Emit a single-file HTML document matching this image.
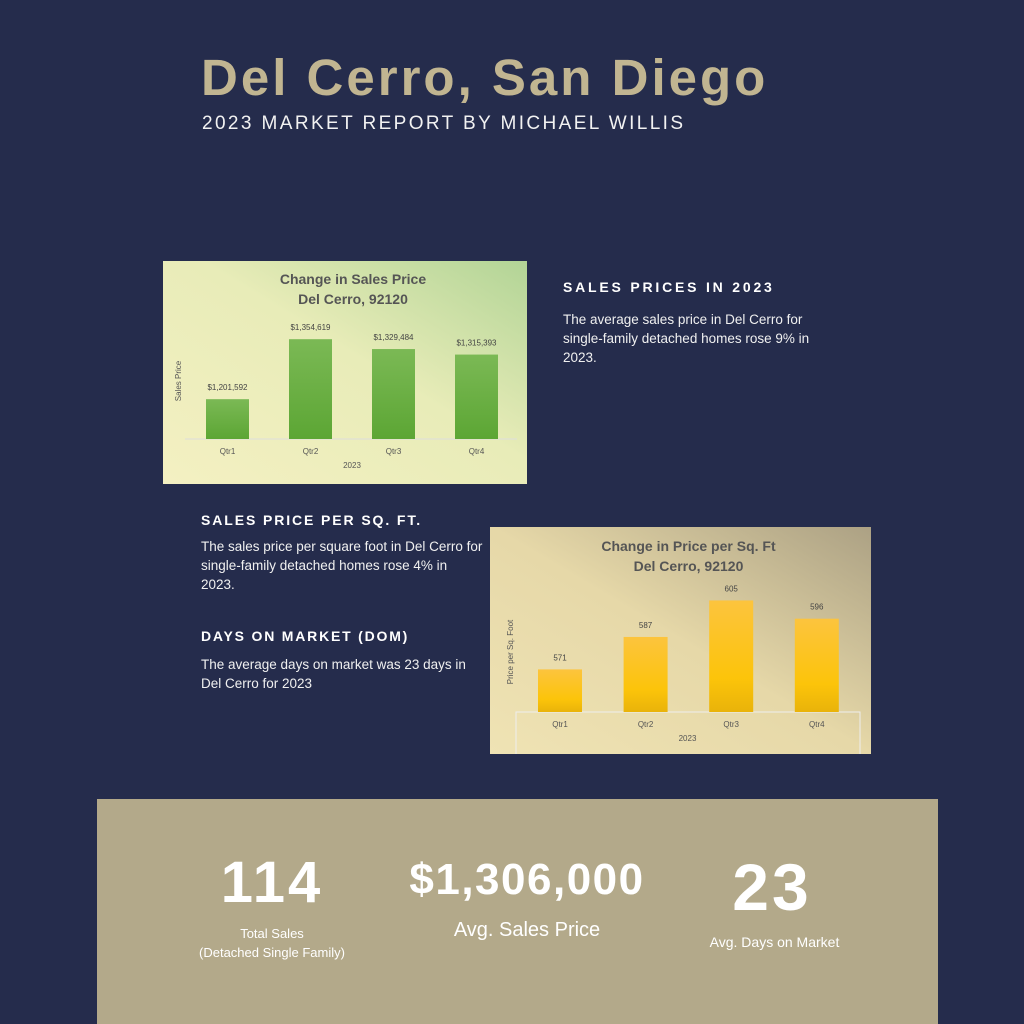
<!DOCTYPE html>
<html><head><meta charset="utf-8"><style>
body{margin:0;width:1024px;height:1024px;background:#252c4c;position:relative;overflow:hidden;font-family:"Liberation Sans",sans-serif}
.a{position:absolute;margin:0}
h1.a{left:201px;top:48px;font-size:51px;font-weight:bold;color:#c1b591;letter-spacing:3px;white-space:nowrap}
.sub{left:202px;top:113px;font-size:19px;color:#f2f2f2;letter-spacing:2.4px;white-space:nowrap}
.h{font-size:14px;font-weight:bold;color:#fff;letter-spacing:2.3px;white-space:nowrap}
.p{font-size:13.5px;color:#f0f0f0;line-height:19px}
.stats{left:97px;top:799px;width:841px;height:225px;background:#b3a98a}
.big{font-weight:900;color:#fff;text-align:center;position:absolute;white-space:nowrap}
.lbl{color:#fff;text-align:center;position:absolute}
</style></head><body>
<h1 class="a">Del Cerro, San Diego</h1>
<div class="a sub">2023 MARKET REPORT BY MICHAEL WILLIS</div>

<svg class="a" id="c1" style="left:163px;top:261px" width="364" height="223"></svg>
<div class="a h" style="left:563px;top:279px;letter-spacing:2.8px">SALES PRICES IN 2023</div>
<div class="a p" style="left:563px;top:310px;width:280px">The average sales price in Del Cerro for single-family detached homes rose 9% in 2023.</div>

<div class="a h" style="left:201px;top:512px;letter-spacing:1.9px">SALES PRICE PER SQ. FT.</div>
<div class="a p" style="left:201px;top:537px;width:283px">The sales price per square foot in Del Cerro for single-family detached homes rose 4% in 2023.</div>
<div class="a h" style="left:201px;top:628px;letter-spacing:1.8px">DAYS ON MARKET (DOM)</div>
<div class="a p" style="left:201px;top:655px;width:283px">The average days on market was 23 days in Del Cerro for 2023</div>

<svg class="a" id="c2" style="left:490px;top:527px" width="381" height="227"></svg>

<div class="a stats">
<div class="big" style="left:105px;top:50px;width:140px;font-size:58px;letter-spacing:3px">114</div>
<div class="lbl" style="left:75px;top:125px;width:200px;font-size:13px;line-height:19px">Total Sales<br>(Detached Single Family)</div>
<div class="big" style="left:290px;top:56px;width:280px;font-size:44px;letter-spacing:1.5px">$1,306,000</div>
<div class="lbl" style="left:330px;top:120px;width:200px;font-size:20px">Avg. Sales Price</div>
<div class="big" style="left:615px;top:50px;width:120px;font-size:66px;letter-spacing:3px">23</div>
<div class="lbl" style="left:590px;top:135px;width:175px;font-size:14px">Avg. Days on Market</div>
</div>

<script>
const cats1=["Qtr1","Qtr2","Qtr3","Qtr4"];
const vals1=[1201592,1354619,1329484,1315393];
const labels1=["$1,201,592","$1,354,619","$1,329,484","$1,315,393"];
const cats2=["Qtr1","Qtr2","Qtr3","Qtr4"];
const vals2=[571,587,605,596];
const labels2=["571","587","605","596"];
const NS="http://www.w3.org/2000/svg";
function mk(svg,tag,attrs,txt){const e=document.createElementNS(NS,tag);for(const k in attrs)e.setAttribute(k,attrs[k]);if(txt!==undefined)e.textContent=txt;svg.appendChild(e);return e;}
function chart(id,o){
 const svg=document.getElementById(id);
 svg.innerHTML=o.defs;
 mk(svg,"rect",{x:0,y:0,width:o.w,height:o.h,fill:"url(#bg"+id+")"});
 const t1=mk(svg,"text",{x:o.w/2+8,y:o.t1y,"text-anchor":"middle","font-size":"14","font-weight":"bold",fill:"#555"},o.title1);
 
 mk(svg,"text",{x:o.w/2+8,y:o.t1y+20,"text-anchor":"middle","font-size":"14","font-weight":"bold",fill:"#555"},"Del Cerro, 92120");
 const y=v=>o.base-(v-o.min)/(o.max-o.min)*o.span;
 const x=i=>o.x0+i*o.step;
 if(o.axisBox) mk(svg,"rect",{x:26,y:o.base,width:344,height:50,fill:"none",stroke:"#eee","stroke-width":1});
 else mk(svg,"line",{x1:22,x2:o.w-10,y1:o.base,y2:o.base,stroke:"#ddd"});
 o.cats.forEach((c,i)=>{
  const b=mk(svg,"rect",{x:x(i),y:y(o.vals[i]),width:o.bw,height:o.base-y(o.vals[i]),fill:"url(#bar"+id+")"});
  
  mk(svg,"text",{x:x(i)+o.bw/2,y:y(o.vals[i])-9,"text-anchor":"middle","font-size":"8",fill:"#444"},o.labels[i]);
  const tl=mk(svg,"text",{x:x(i)+o.bw/2,y:o.base+15,"text-anchor":"middle","font-size":"8",fill:"#555"},c);
  
 });
 mk(svg,"text",{x:o.w/2+7,y:o.base+29,"text-anchor":"middle","font-size":"8",fill:"#555"},"2023");
 const yt=mk(svg,"text",{x:0,y:0,"text-anchor":"middle","font-size":"8",fill:"#555",transform:"translate("+o.ylx+","+o.yly+") rotate(-90)"},o.ytitle);
 
}
chart("c1",{w:364,h:223,t1y:23,title1:"Change in Sales Price",base:178,min:1100000,max:1400000,span:117.6,x0:43,step:83,bw:43,cats:cats1,vals:vals1,labels:labels1,ytitle:"Sales Price",ylx:18,yly:120,
 defs:'<defs><linearGradient id="bgc1" x1="0" y1="1" x2="1" y2="0"><stop offset="0" stop-color="#f4f0c2"/><stop offset="0.55" stop-color="#e8ecb8"/><stop offset="1" stop-color="#b2d496"/></linearGradient><linearGradient id="barc1" x1="0" y1="0" x2="0" y2="1"><stop offset="0" stop-color="#7bb955"/><stop offset="1" stop-color="#5ca634"/></linearGradient></defs>'});
chart("c2",{w:381,h:227,t1y:24,title1:"Change in Price per Sq. Ft",base:185,min:550,max:620,span:142,x0:48,step:85.6,bw:44,cats:cats2,vals:vals2,labels:labels2,ytitle:"Price  per Sq. Foot",ylx:23,yly:125,axisBox:true,
 defs:'<defs><linearGradient id="bgc2" x1="0" y1="1" x2="1" y2="0"><stop offset="0" stop-color="#efe3b4"/><stop offset="0.5" stop-color="#e6d8a8"/><stop offset="1" stop-color="#aca184"/></linearGradient><linearGradient id="barc2" x1="0" y1="0" x2="0" y2="1"><stop offset="0" stop-color="#fcc43e"/><stop offset="0.7" stop-color="#fcc40a"/><stop offset="1" stop-color="#e9b30a"/></linearGradient></defs>'});
</script>
</body></html>
